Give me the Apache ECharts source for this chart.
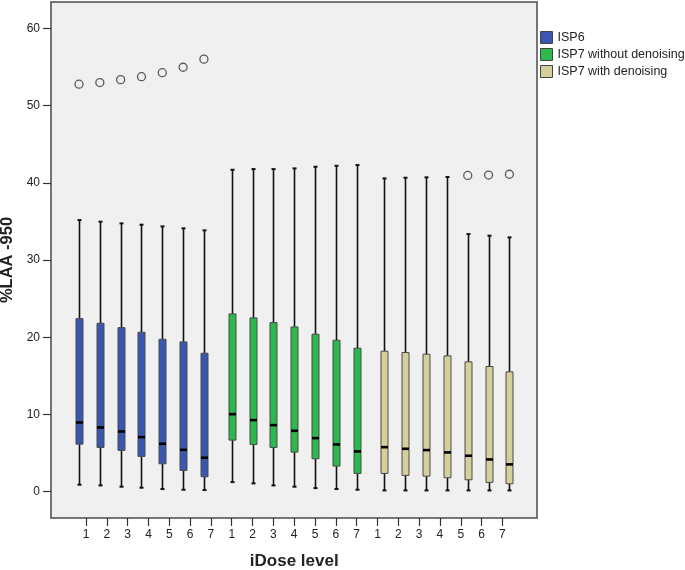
<!DOCTYPE html>
<html><head><meta charset="utf-8">
<script src="https://cdn.jsdelivr.net/npm/echarts@6/dist/echarts.min.js"></script>
<style>html,body{margin:0;padding:0;background:#fff}#c{width:685px;height:570px}</style>
</head><body><div id="c"></div>
<script>
const groups = ['ISP6', 'ISP7 without denoising', 'ISP7 with denoising'];
const doseLevels = ['1', '2', '3', '4', '5', '6', '7'];
const yTicks = [0, 10, 20, 30, 40, 50, 60];
// per iDose level: [min, Q1, median, Q3, max]
const isp6Box = [
  [0.91, 6.16, 8.97, 22.41, 35.17],
  [0.82, 5.73, 8.32, 21.81, 34.96],
  [0.65, 5.35, 7.80, 21.25, 34.74],
  [0.52, 4.57, 7.07, 20.65, 34.57],
  [0.35, 3.62, 6.21, 19.74, 34.35],
  [0.26, 2.76, 5.43, 19.40, 34.10],
  [0.22, 1.94, 4.40, 17.93, 33.84]
];
const isp7NoDenBox = [
  [1.25, 6.68, 10.04, 23.02, 41.68],
  [1.08, 6.12, 9.27, 22.50, 41.77],
  [0.82, 5.73, 8.62, 21.90, 41.77],
  [0.65, 5.13, 7.89, 21.34, 41.86],
  [0.47, 4.27, 6.94, 20.39, 42.07],
  [0.35, 3.32, 6.12, 19.61, 42.20],
  [0.26, 2.37, 5.22, 18.58, 42.29]
];
const isp7DenBox = [
  [0.17, 2.37, 5.77, 18.19, 40.56],
  [0.17, 2.11, 5.56, 18.02, 40.65],
  [0.17, 2.02, 5.39, 17.80, 40.70],
  [0.17, 1.81, 5.09, 17.59, 40.75],
  [0.17, 1.55, 4.66, 16.81, 33.36],
  [0.17, 1.21, 4.18, 16.21, 33.15],
  [0.17, 1.03, 3.54, 15.52, 32.93]
];
// outliers: [iDose level index (0-based), value]
const isp6Outliers = [[0, 52.76], [1, 52.97], [2, 53.35], [3, 53.73], [4, 54.25], [5, 54.95], [6, 56.0]];
const isp7NoDenOutliers = [];
const isp7DenOutliers = [[4, 40.95], [5, 41.0], [6, 41.1]];

const colors = ['#3a56b0', '#2db84d', '#d5cf9b'];
const offsets = [-7, 0, 7];
const boxSets = [isp6Box, isp7NoDenBox, isp7DenBox];
const outlierSets = [isp6Outliers, isp7NoDenOutliers, isp7DenOutliers];

const categories = [];
groups.forEach(g => doseLevels.forEach(d => categories.push(g + '|' + d)));

const FONT = '"Liberation Sans", Arial, sans-serif';

function makeRender(offset, fill) {
  return function (params, api) {
    const x = api.value(0);
    const pMin = api.coord([x, api.value(1)]);
    const pQ1 = api.coord([x, api.value(2)]);
    const pMed = api.coord([x, api.value(3)]);
    const pQ3 = api.coord([x, api.value(4)]);
    const pMax = api.coord([x, api.value(5)]);
    const cx = Math.round(pMin[0] + offset) + 0.5;
    const hw = 3.5;
    return {
      type: 'group',
      children: [
        { type: 'line', shape: { x1: cx, y1: pMax[1], x2: cx, y2: pQ3[1] }, style: { stroke: '#111', lineWidth: 1.6 } },
        { type: 'line', shape: { x1: cx, y1: pQ1[1], x2: cx, y2: pMin[1] }, style: { stroke: '#111', lineWidth: 1.6 } },
        { type: 'line', shape: { x1: cx - 2, y1: pMax[1], x2: cx + 2, y2: pMax[1] }, style: { stroke: '#111', lineWidth: 2 } },
        { type: 'line', shape: { x1: cx - 2, y1: pMin[1], x2: cx + 2, y2: pMin[1] }, style: { stroke: '#111', lineWidth: 2 } },
        { type: 'rect', shape: { x: cx - hw, y: pQ3[1], width: 2 * hw, height: pQ1[1] - pQ3[1] }, style: { fill: fill, stroke: '#4a4a4a', lineWidth: 1 } },
        { type: 'line', shape: { x1: cx - hw, y1: pMed[1], x2: cx + hw, y2: pMed[1] }, style: { stroke: '#000', lineWidth: 2.6 } }
      ]
    };
  };
}

const series = [];
groups.forEach((g, gi) => {
  series.push({
    name: g,
    type: 'custom',
    xAxisIndex: 1,
    yAxisIndex: 1,
    itemStyle: { color: colors[gi] },
    renderItem: makeRender(offsets[gi], colors[gi]),
    encode: { x: 0, y: [1, 2, 3, 4, 5] },
    data: boxSets[gi].map((b, i) => [gi * 7 + i].concat(b)),
    z: 3
  });
});
groups.forEach((g, gi) => {
  if (!outlierSets[gi].length) return;
  series.push({
    name: g + ' outliers',
    type: 'scatter',
    xAxisIndex: 1,
    yAxisIndex: 1,
    symbol: 'circle',
    symbolSize: 8,
    symbolOffset: [offsets[gi], 0],
    itemStyle: { color: 'rgba(0,0,0,0)', borderColor: '#333', borderWidth: 1.3 },
    data: outlierSets[gi].map(o => [gi * 7 + o[0], o[1]]),
    z: 4
  });
});

const chart = echarts.init(document.getElementById('c'));
chart.setOption({
  animation: false,
  backgroundColor: '#ffffff',
  textStyle: { fontFamily: FONT },
  legend: {
    orient: 'vertical',
    left: 535,
    top: 26,
    itemWidth: 12,
    itemHeight: 12,
    itemGap: 4,
    selectedMode: false,
    textStyle: { fontSize: 12.5, color: '#222', fontFamily: FONT },
    data: groups.map((g, gi) => ({ name: g, icon: 'rect', itemStyle: { color: colors[gi], borderColor: '#444', borderWidth: 1 } }))
  },
  grid: [
    { left: 51, top: 2, width: 486, height: 516, show: true, backgroundColor: '#f0f0f0', borderColor: '#4a4a4a', borderWidth: 1.5, outerBoundsMode: 'none', containLabel: false },
    { left: 75.6, top: 2, width: 437.2, height: 516, outerBoundsMode: 'none', containLabel: false }
  ],
  xAxis: [
    { gridIndex: 0, type: 'value', show: false, min: 0, max: 1 },
    {
      gridIndex: 1, type: 'category', data: categories, boundaryGap: true,
      axisLine: { show: false, onZero: false },
      axisTick: { show: true, alignWithLabel: true, length: 8, lineStyle: { color: '#333', width: 1.2 } },
      axisLabel: { margin: 11, fontSize: 12, color: '#222', fontFamily: FONT, interval: 0, formatter: v => v.split('|')[1] },
      name: 'iDose level', nameLocation: 'middle', nameGap: 35,
      nameTextStyle: { fontSize: 17, fontWeight: 'bold', color: '#222', fontFamily: FONT }
    }
  ],
  yAxis: [
    {
      gridIndex: 0, type: 'value', min: -3.4, max: 63.4,
      axisLine: { show: false, onZero: false },
      splitLine: { show: false },
      axisTick: { show: true, length: 8, customValues: yTicks, lineStyle: { color: '#333', width: 1.2 } },
      axisLabel: { margin: 11, fontSize: 12, color: '#222', fontFamily: FONT, customValues: yTicks },
      name: '%LAA -950', nameLocation: 'middle', nameGap: 34.5,
      nameTextStyle: { fontSize: 16.5, fontWeight: 'bold', color: '#222', fontFamily: FONT }
    },
    { gridIndex: 1, type: 'value', min: -3.4, max: 63.4, show: false }
  ],
  series: series
});
</script>
</body></html>
